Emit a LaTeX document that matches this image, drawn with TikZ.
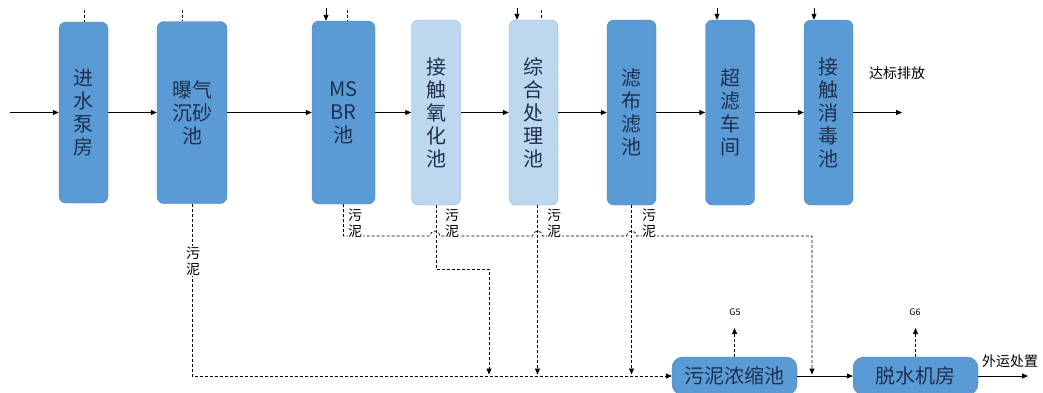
\documentclass[tikz,border=0pt]{standalone}
\usepackage{fontspec}
\setmainfont{Noto Sans CJK SC}
\usetikzlibrary{arrows.meta}

\definecolor{boxdark}{HTML}{5B9BD5}
\definecolor{boxline}{HTML}{4A7FB0}
\definecolor{boxlight}{HTML}{BDD7EE}
\definecolor{lightline}{HTML}{8FAFCF}
\definecolor{boxtext}{HTML}{1F2F4F}

\begin{document}
\begin{tikzpicture}[x=1pt,y=-1pt,
  every node/.style={font=\fontsize{14}{16}\selectfont},
  unit/.style={draw=boxline,fill=boxdark,rounded corners=7pt,minimum width=49pt,
    minimum height=185pt,align=center,text=boxtext,inner sep=0pt,
    font=\fontsize{20}{23}\selectfont},
  unitlight/.style={unit,fill=boxlight,draw=lightline},
  sludgebox/.style={unit,minimum width=125pt,minimum height=38pt,rounded corners=11pt,
    font=\fontsize{20}{22}\selectfont},
  flow/.style={-{Triangle[length=6pt,width=5pt]},line width=0.8pt},
  sludge/.style={dash pattern=on 3pt off 2pt,line width=0.7pt},
  sludgeflow/.style={sludge,-{Triangle[length=6pt,width=5pt]}},
  tag/.style={font=\fontsize{14}{16}\selectfont,align=center,inner sep=0.5pt,fill=white}]
  \useasboundingbox (0,0) rectangle (1043,392);

  % Treatment units
  \node[unit,minimum height=181pt] (pump) at (83.5,112.5) {进\\水\\泵\\房};
  \node[unit,minimum width=70pt,minimum height=182pt] (grit) at (192,112.5) {曝气\\沉砂\\池};
  \node[unit,minimum width=63pt,minimum height=183pt] (msbr) at (343.5,112.5) {MS\\BR\\池};
  \node[unitlight] (contact) at (436,112.5) {接\\触\\氧\\化\\池};
  \node[unitlight] (combo) at (533.5,112.5) {综\\合\\处\\理\\池};
  \node[unit] (filter) at (631.5,112.5) {滤\\布\\滤\\池};
  \node[unit] (uf) at (730,112.5) {超\\滤\\车\\间};
  \node[unit] (disinf) at (828.5,112.5) {接\\触\\消\\毒\\池};

  % Sludge units
  \node[sludgebox] (thick) at (734.5,376) {污泥浓缩池};
  \node[sludgebox] (dewater) at (915.5,376) {脱水机房};

  % Water line
  \coordinate (inlet) at (10,112.5);
  \coordinate (outlet) at (902,112.5);
  \draw[flow] (inlet) -- (pump);
  \foreach \a/\b in {pump/grit,grit/msbr,msbr/contact,contact/combo,combo/filter,filter/uf,uf/disinf}
    \draw[flow] (\a) -- (\b);
  \draw[flow] (disinf) -- (outlet);
  \node (discharge) at (897,73) {达标排放};

  % Feeds from above
  \foreach \x/\n in {326/msbr,517/combo,717/uf,814/disinf}
    \draw[flow] (\x,8) -- (\x,0 |- \n.north);
  \foreach \x/\n in {84/pump,182/grit,347/msbr,541/combo}
    \draw[sludge] (\x,10) -- (\x,0 |- \n.north);

  % Sludge lines
  \draw[sludgeflow] (grit.south) |- (thick.west);
  \node[tag] (gritlbl) at (193,261) {污\\泥};
  \draw[sludgeflow] (msbr.south) |- (430,236)
    arc[start angle=180,end angle=0,radius=5pt] -- (532.5,236)
    arc[start angle=180,end angle=0,radius=5pt] -- (626.5,236)
    arc[start angle=180,end angle=0,radius=5pt] -- (812,236) -- (812,374.5);
  \draw[sludgeflow] (contact.south) -- (436,269) -| (489,374.5);
  \draw[sludgeflow] ([xshift=4pt]combo.south) -- (537.5,374.5);
  \draw[sludgeflow] (filter.south) -- (631.5,374.5);
  \foreach \x/\n in {355/msbrlbl,452/contactlbl,554/combolbl,649/filterlbl}
    \node[tag] (\n) at (\x,223) {污\\泥};

  % Off-gas
  \coordinate (gfive) at (734.5,328);
  \coordinate (gsix) at (915.5,328);
  \draw[sludgeflow] (thick) -- (gfive);
  \draw[sludgeflow] (dewater) -- (gsix);
  \node[font=\fontsize{9}{10}\selectfont] (gfivelbl) at (735,312) {G5};
  \node[font=\fontsize{9}{10}\selectfont] (gsixlbl) at (915,312) {G6};

  % Sludge out
  \coordinate (cake) at (1028,376);
  \draw[flow] (thick) -- (dewater);
  \draw[flow] (dewater) -- (cake);
  \node (cakelbl) at (1010,361) {外运处置};
\end{tikzpicture}
\end{document}
